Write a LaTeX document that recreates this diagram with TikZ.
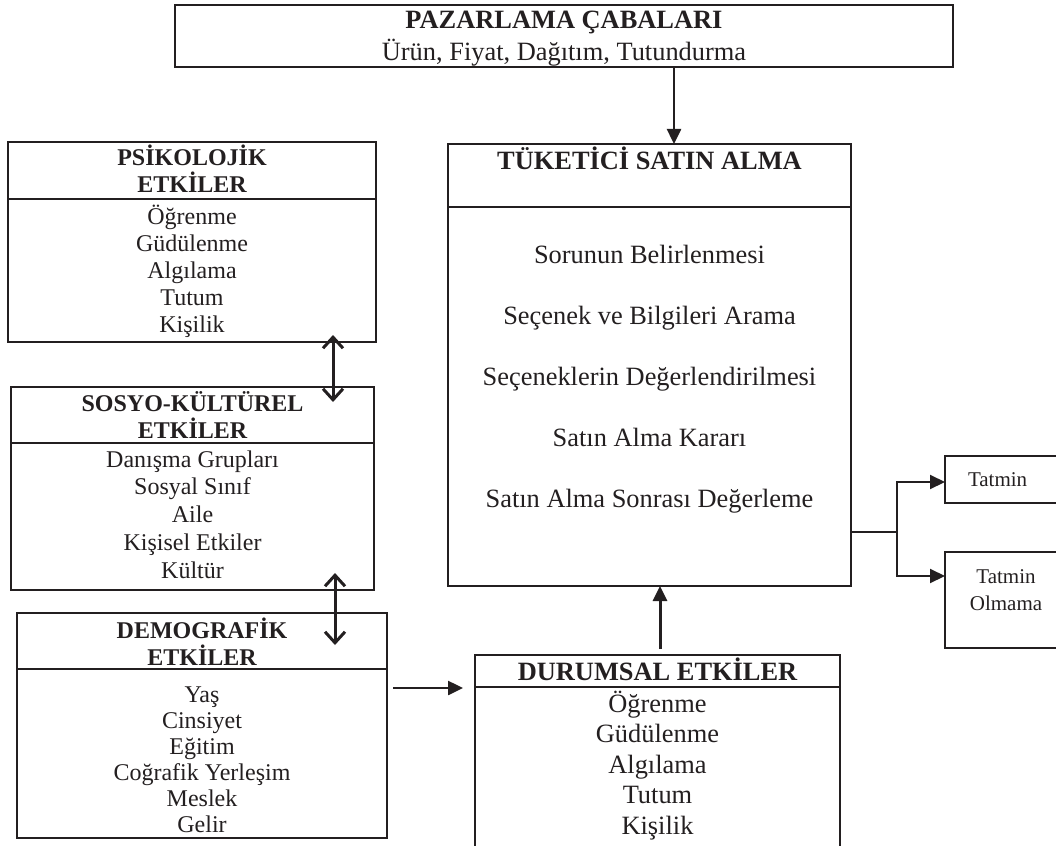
\documentclass[tikz,border=0pt]{standalone}
\usepackage{fontspec}
\setmainfont{Liberation Serif}
\usetikzlibrary{arrows.meta,calc}
\definecolor{ink}{HTML}{231F20}
\begin{document}
\begin{tikzpicture}[x=1pt,y=-1pt,
  box/.style={draw=ink, line width=2pt, inner sep=0pt, outer sep=0pt},
  divider/.style={draw=ink, line width=2pt},
  txt/.style={inner sep=0pt, outer sep=0pt, anchor=base, text=ink},
  fs/.style={font=\fontsize{24}{28}\selectfont},
  fsb/.style={font=\fontsize{24}{28}\selectfont\bfseries},
  fl/.style={font=\fontsize{26.4}{31}\selectfont},
  flb/.style={font=\fontsize{26.4}{31}\selectfont\bfseries},
  ft/.style={font=\fontsize{21}{25}\selectfont},
  conn/.style={draw=ink, line width=2.5pt},
  thin/.style={draw=ink, line width=2pt},
  arr/.style={-{Triangle[length=15pt,width=14pt]}},
  dbl/.style={draw=ink, line width=3pt,
    {Straight Barb[length=11pt,width=20pt]}-{Straight Barb[length=11pt,width=20pt]}}
]
\useasboundingbox (0,0) rectangle (1056,845);
\clip (0,0) rectangle (1056,845);

% ---- boxes ----
\node[box, minimum width=778pt, minimum height=62pt] (top) at (564,36) {};
\node[box, minimum width=403pt, minimum height=442pt] (tuk) at (649.5,365) {};
\node[box, minimum width=368pt, minimum height=200pt] (psi) at (192,242) {};
\node[box, minimum width=363pt, minimum height=203pt] (sos) at (192.5,488.5) {};
\node[box, minimum width=370pt, minimum height=225pt] (dem) at (202,725.5) {};
\node[box, minimum width=365pt, minimum height=225pt] (dur) at (657.5,767.5) {};
\node[box, minimum width=125pt, minimum height=47pt] (tat1) at (1007.5,479.5) {};
\node[box, minimum width=122pt, minimum height=96pt] (tat2) at (1006,600) {};

% ---- dividers ----
\draw[divider] (tuk.west |- 0,207) -- (tuk.east |- 0,207);
\draw[divider] (psi.west |- 0,199) -- (psi.east |- 0,199);
\draw[divider] (sos.west |- 0,443) -- (sos.east |- 0,443);
\draw[divider] (dem.west |- 0,669) -- (dem.east |- 0,669);
\draw[divider] (dur.west |- 0,687) -- (dur.east |- 0,687);

% ---- texts ----
\node[txt,flb] (toptitle) at (564,29) {PAZARLAMA ÇABALARI};
\node[txt,fl] (topsub) at (564,61) {Ürün, Fiyat, Dağıtım, Tutundurma};

\node[txt,flb] (tuktitle) at (649.5,170) {TÜKETİCİ SATIN ALMA};
\foreach \t [count=\i from 0] in {Sorunun Belirlenmesi, Seçenek ve Bilgileri Arama,
  Seçeneklerin Değerlendirilmesi, Satın Alma Kararı, Satın Alma Sonrası Değerleme}
  \node[txt,fl] (tuki\i) at (649.5,{263+61.2*\i}) {\t};

\node[txt,fsb] (psit1) at (192,165) {PSİKOLOJİK};
\node[txt,fsb] (psit2) at (192,193) {ETKİLER};
\foreach \t [count=\i from 0] in {Öğrenme, Güdülenme, Algılama, Tutum, Kişilik}
  \node[txt,fs] (psii\i) at (192,{224+27*\i}) {\t};

\node[txt,fsb] (sost1) at (192.5,411) {SOSYO-KÜLTÜREL};
\node[txt,fsb] (sost2) at (192.5,438) {ETKİLER};
\foreach \t [count=\i from 0] in {Danışma Grupları, Sosyal Sınıf, Aile, Kişisel Etkiler, Kültür}
  \node[txt,fs] (sosi\i) at (192.5,{467+27.75*\i}) {\t};

\node[txt,fsb] (demt1) at (202,638) {DEMOGRAFİK};
\node[txt,fsb] (demt2) at (202,665) {ETKİLER};
\foreach \t [count=\i from 0] in {Yaş, Cinsiyet, Eğitim, Coğrafik Yerleşim, Meslek, Gelir}
  \node[txt,fs] (demi\i) at (202,{702+26*\i}) {\t};

\node[txt,flb] (durt) at (657.5,680) {DURUMSAL ETKİLER};
\foreach \t [count=\i from 0] in {Öğrenme, Güdülenme, Algılama, Tutum, Kişilik}
  \node[txt,fl] (duri\i) at (657.5,{712+30.5*\i}) {\t};

\node[txt,ft,anchor=base west] (tat1t) at (968,486) {Tatmin};
\node[txt,ft] (tat2t1) at (1006,583) {Tatmin};
\node[txt,ft] (tat2t2) at (1006,610) {Olmama};

% ---- connectors ----
\coordinate (ax) at (674,0);
\draw[conn,arr] (top.south -| ax) -- (tuk.north -| ax);

\coordinate (ux) at (660,0);
\draw[conn,line width=3pt,arr,shorten <=6pt] (dur.north -| ux) -- (tuk.south -| ux);

\coordinate (hy) at (0,688);
\draw[conn,arr,shorten <=6pt,shorten >=12pt] (dem.east |- hy) -- (dur.west |- hy);

\coordinate (d1a) at (333,335);
\coordinate (d1b) at (333,402);
\draw[dbl] (d1a) -- (d1b);
\coordinate (d2a) at (335,573);
\coordinate (d2b) at (335,645);
\draw[dbl] (d2a) -- (d2b);

\coordinate (br) at (897,532);
\coordinate (t1in) at (945,482);
\coordinate (t2in) at (945,576);
\draw[thin] (tuk.east |- br) -- (br);
\draw[thin,arr] (br) |- (t1in);
\draw[thin,arr] (br) |- (t2in);
\end{tikzpicture}
\end{document}
